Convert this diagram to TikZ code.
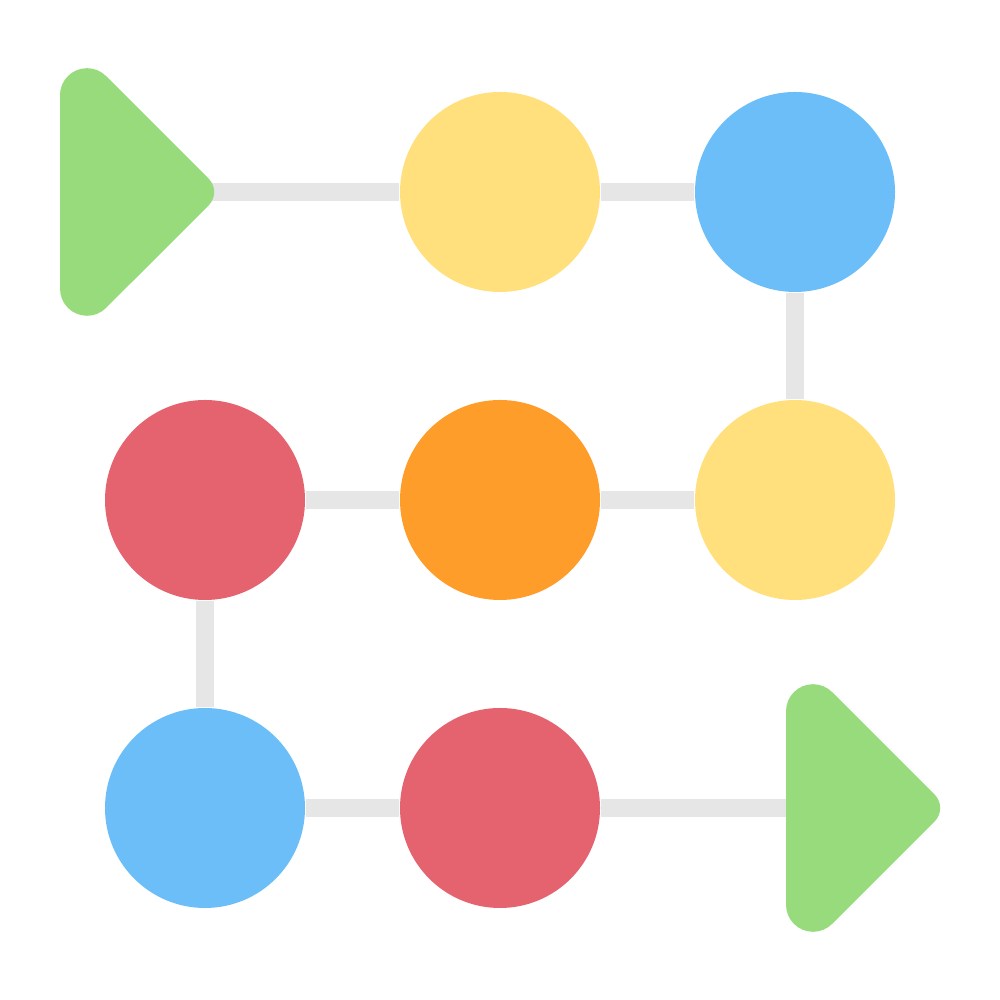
\documentclass[tikz,border=0pt]{standalone}
\usetikzlibrary{backgrounds}
\definecolor{playgreen}{HTML}{98DB7C}
\definecolor{dotyellow}{HTML}{FFE07D}
\definecolor{dotblue}{HTML}{6BBEF8}
\definecolor{dotred}{HTML}{E5636F}
\definecolor{dotorange}{HTML}{FF9D2A}
\definecolor{linkgray}{HTML}{E6E6E6}
\begin{document}
\begin{tikzpicture}
[dotnode/.style={circle, inner sep=0, minimum size=2cm},
linkline/.style={line width=0.18cm, draw=linkgray},
]
\useasboundingbox (0,0) rectangle (10,10);
%start
\fill[playgreen] (0.6,9.048) arc[start angle=180,end angle=45,radius=0.27] -- (2.086,8.214) arc[start angle=45,end angle=-45,radius=0.19] -- (1.061,6.921) arc[start angle=-45,end angle=-180,radius=0.27] -- cycle;
\coordinate (start) at (2.1,8.08);
%row1
\node[dotnode, fill=dotyellow](y1) at (5.00, 8.08) {};
\node[dotnode, fill=dotblue](b1) at (7.95, 8.08) {};
%row2
\node[dotnode, fill=dotred](r2) at (2.05, 5.00) {};
\node[dotnode, fill=dotorange](o2) at (5.00, 5.00) {};
\node[dotnode, fill=dotyellow](y2) at (7.95, 5.00) {};
%row3
\node[dotnode, fill=dotblue](b3) at (2.05, 1.92) {};
\node[dotnode, fill=dotred](r3) at (5.00, 1.92) {};
%end
\begin{scope}[shift={(7.26,-6.16)}]
\fill[playgreen] (0.6,9.048) arc[start angle=180,end angle=45,radius=0.27] -- (2.086,8.214) arc[start angle=45,end angle=-45,radius=0.19] -- (1.061,6.921) arc[start angle=-45,end angle=-180,radius=0.27] -- cycle;
\coordinate (end) at (1,8.08);
\end{scope}
%draw line
\begin{scope}[on background layer]
\draw[linkline] (start) -- (y1);
\draw[linkline] (y1) -- (b1);
\draw[linkline] (b1) -- (y2);
\draw[linkline] (y2) -- (o2);
\draw[linkline] (o2) -- (r2);
\draw[linkline] (r2) -- (b3);
\draw[linkline] (b3) -- (r3);
\draw[linkline] (r3) -- (end);
\end{scope}
\end{tikzpicture}
\end{document}
